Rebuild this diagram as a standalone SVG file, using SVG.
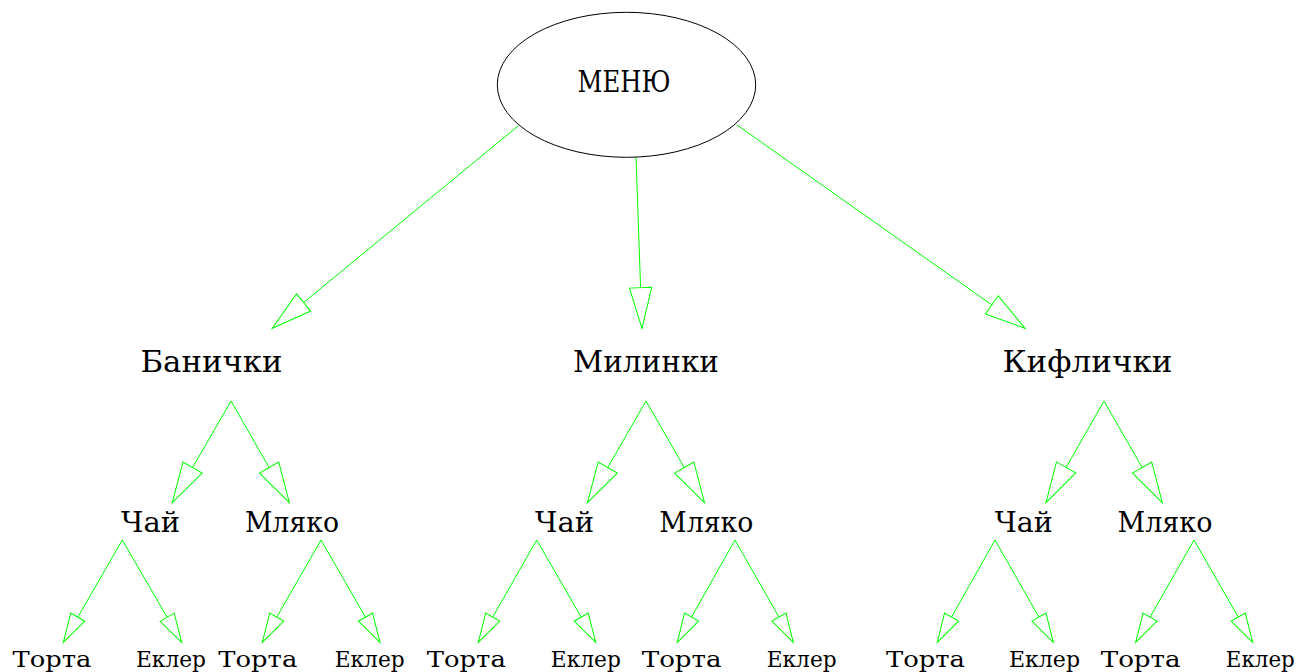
<svg xmlns="http://www.w3.org/2000/svg" width="1299" height="672" viewBox="0 0 1299 672">
<style>
text{font-family:"DejaVu Serif","Liberation Serif",serif;fill:#000;text-anchor:middle}
.t0{font-size:30px}
.t1{font-size:30px}
.t2{font-size:27px}
.t3{font-size:23px}
.e{stroke:#00ff00;stroke-width:1;fill:none}
</style>
<defs>
<marker id="big" markerUnits="userSpaceOnUse" orient="auto" refX="0" refY="0" markerWidth="50" markerHeight="30" overflow="visible">
<path d="M0,0 L-40.6,-11.1 L-40.6,11.1 Z" fill="#fff" stroke="#00ff00" stroke-width="1"/>
</marker>
<marker id="small" markerUnits="userSpaceOnUse" orient="auto" refX="0" refY="0" markerWidth="40" markerHeight="20" overflow="visible">
<path d="M0,0 L-29,-8.1 L-29,8.1 Z" fill="#fff" stroke="#00ff00" stroke-width="1"/>
</marker>
</defs>
<rect width="1299" height="672" fill="#fff"/>
<g id="connectors">
<line class="e" x1="518" y1="126" x2="272.3" y2="328.3" marker-end="url(#big)"/>
<line class="e" x1="636" y1="157" x2="642" y2="328.3" marker-end="url(#big)"/>
<line class="e" x1="737" y1="125" x2="1025" y2="328.3" marker-end="url(#big)"/>
<line class="e" x1="231" y1="401" x2="172.3" y2="502.7" marker-end="url(#big)"/>
<line class="e" x1="231" y1="401" x2="289.3" y2="502.7" marker-end="url(#big)"/>
<line class="e" x1="646" y1="401" x2="587.5" y2="502.7" marker-end="url(#big)"/>
<line class="e" x1="646" y1="401" x2="704.5" y2="502.7" marker-end="url(#big)"/>
<line class="e" x1="1104" y1="401" x2="1046" y2="502.7" marker-end="url(#big)"/>
<line class="e" x1="1104" y1="401" x2="1162.3" y2="502.7" marker-end="url(#big)"/>
<line class="e" x1="122.3" y1="540" x2="63.3" y2="642.3" marker-end="url(#small)"/>
<line class="e" x1="122.3" y1="540" x2="181.7" y2="642.3" marker-end="url(#small)"/>
<line class="e" x1="321" y1="540" x2="262.3" y2="642.3" marker-end="url(#small)"/>
<line class="e" x1="321" y1="540" x2="380" y2="642.3" marker-end="url(#small)"/>
<line class="e" x1="536.7" y1="540" x2="478.3" y2="642.3" marker-end="url(#small)"/>
<line class="e" x1="536.7" y1="540" x2="595.7" y2="642.3" marker-end="url(#small)"/>
<line class="e" x1="735" y1="540" x2="677.3" y2="642.3" marker-end="url(#small)"/>
<line class="e" x1="735" y1="540" x2="793.3" y2="642.3" marker-end="url(#small)"/>
<line class="e" x1="995" y1="540" x2="937.3" y2="642.3" marker-end="url(#small)"/>
<line class="e" x1="995" y1="540" x2="1053.3" y2="642.3" marker-end="url(#small)"/>
<line class="e" x1="1194" y1="540" x2="1135.7" y2="642.3" marker-end="url(#small)"/>
<line class="e" x1="1194" y1="540" x2="1252.7" y2="642.3" marker-end="url(#small)"/>
</g>
<g id="menu">
<ellipse cx="626.5" cy="84.8" rx="129.2" ry="72.5" fill="none" stroke="#000" stroke-width="1"/>
<text class="t0" x="624" y="92" textLength="93" lengthAdjust="spacingAndGlyphs">МЕНЮ</text>
</g>
<g id="banichki"><text class="t1" x="211.5" y="372" textLength="142" lengthAdjust="spacingAndGlyphs">Банички</text></g>
<g id="milinki"><text class="t1" x="646" y="372" textLength="146" lengthAdjust="spacingAndGlyphs">Милинки</text></g>
<g id="kiflichki"><text class="t1" x="1087.5" y="372" textLength="170" lengthAdjust="spacingAndGlyphs">Кифлички</text></g>
<g id="chai1"><text class="t2" x="150.5" y="532" textLength="59" lengthAdjust="spacingAndGlyphs">Чай</text></g>
<g id="mlyako1"><text class="t2" x="292" y="532" textLength="94" lengthAdjust="spacingAndGlyphs">Мляко</text></g>
<g id="chai2"><text class="t2" x="564.5" y="532" textLength="59" lengthAdjust="spacingAndGlyphs">Чай</text></g>
<g id="mlyako2"><text class="t2" x="706.3" y="532" textLength="94" lengthAdjust="spacingAndGlyphs">Мляко</text></g>
<g id="chai3"><text class="t2" x="1023.8" y="532" textLength="58" lengthAdjust="spacingAndGlyphs">Чай</text></g>
<g id="mlyako3"><text class="t2" x="1165" y="532" textLength="95" lengthAdjust="spacingAndGlyphs">Мляко</text></g>
<g id="torta1"><text class="t3" x="52" y="667" textLength="79" lengthAdjust="spacingAndGlyphs">Торта</text></g>
<g id="ekler1"><text class="t3" x="171" y="667" textLength="70" lengthAdjust="spacingAndGlyphs">Еклер</text></g>
<g id="torta2"><text class="t3" x="257.8" y="667" textLength="79" lengthAdjust="spacingAndGlyphs">Торта</text></g>
<g id="ekler2"><text class="t3" x="369.7" y="667" textLength="70" lengthAdjust="spacingAndGlyphs">Еклер</text></g>
<g id="torta3"><text class="t3" x="466.3" y="667" textLength="79" lengthAdjust="spacingAndGlyphs">Торта</text></g>
<g id="ekler3"><text class="t3" x="585.8" y="667" textLength="70" lengthAdjust="spacingAndGlyphs">Еклер</text></g>
<g id="torta4"><text class="t3" x="681.7" y="667" textLength="80" lengthAdjust="spacingAndGlyphs">Торта</text></g>
<g id="ekler4"><text class="t3" x="801.7" y="667" textLength="70" lengthAdjust="spacingAndGlyphs">Еклер</text></g>
<g id="torta5"><text class="t3" x="925.5" y="667" textLength="79" lengthAdjust="spacingAndGlyphs">Торта</text></g>
<g id="ekler5"><text class="t3" x="1044.5" y="667" textLength="71" lengthAdjust="spacingAndGlyphs">Еклер</text></g>
<g id="torta6"><text class="t3" x="1140.7" y="667" textLength="80" lengthAdjust="spacingAndGlyphs">Торта</text></g>
<g id="ekler6"><text class="t3" x="1260.3" y="667" textLength="69" lengthAdjust="spacingAndGlyphs">Еклер</text></g>
</svg>
